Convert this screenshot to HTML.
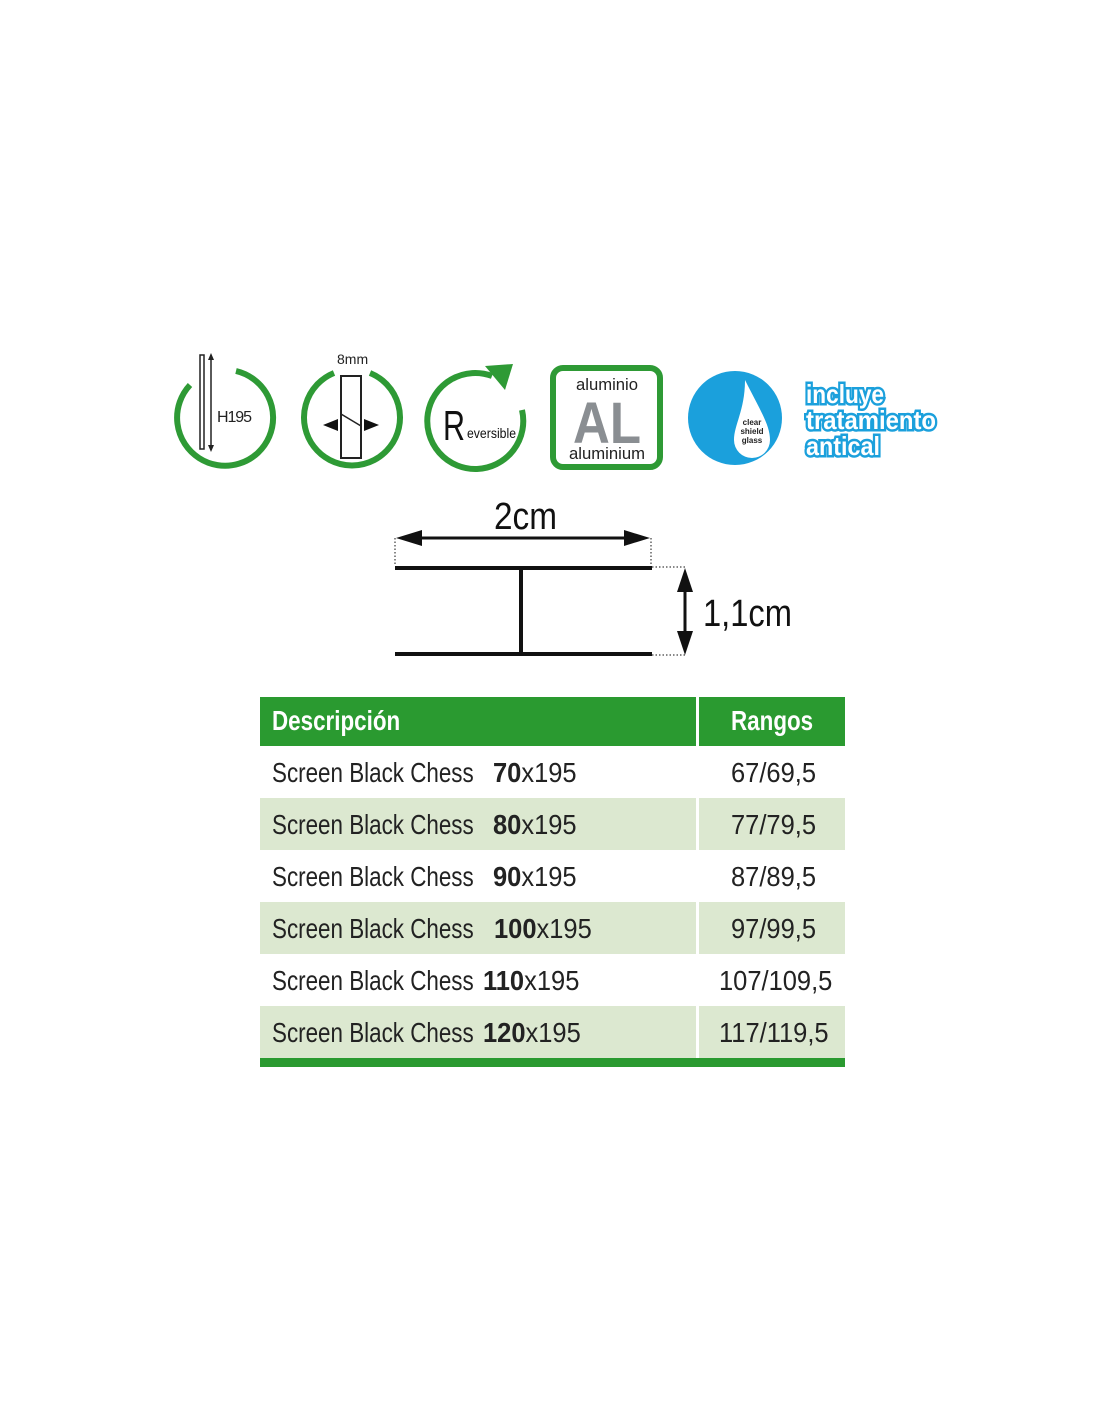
<!DOCTYPE html>
<html><head><style>
body{margin:0;width:1100px;height:1422px;background:#fff;position:relative;font-family:"Liberation Sans",sans-serif;overflow:hidden}
.a{position:absolute}
.row{position:absolute;left:260px;width:585px;height:52px}
.g{background:#dce8d0}
.t{position:absolute;top:11px;font-size:28px;color:#222;white-space:nowrap;transform-origin:0 0;transform:scaleX(0.8)}
.n{transform:scaleX(0.91)}
.div{position:absolute;left:436px;top:0;width:3px;height:100%;background:#fff}
</style></head><body>
<svg class="a" style="left:0;top:0" width="1100" height="700">
<g fill="none" stroke="#2e9a35" stroke-width="6">
<path d="M236 371 A48 48 0 1 1 190 385"/>
<path d="M370 373 A48 48 0 1 1 334 373"/>
<path d="M522 410 A48 48 0 1 1 492 376"/>
<rect x="553" y="368" width="107" height="99" rx="10"/>
</g>
<polygon points="485,366 513,364 505,390" fill="#2e9a35"/>
<rect x="200" y="355" width="4" height="94" fill="none" stroke="#222" stroke-width="1.5"/>
<line x1="211" y1="355" x2="211" y2="450" stroke="#222" stroke-width="1.5"/>
<polygon points="208,360 214,360 211,353" fill="#222"/><polygon points="208,445 214,445 211,452" fill="#222"/>
<text x="217" y="422" font-size="16" fill="#222" textLength="35">H195</text>
<text x="337" y="364" font-size="14" fill="#222">8mm</text>
<rect x="341" y="376" width="20" height="82" fill="#fff" stroke="#222" stroke-width="2"/>
<line x1="341" y1="414" x2="361" y2="426" stroke="#222" stroke-width="1.5"/>
<polygon points="323,425 338,419 338,431" fill="#111"/><polygon points="379,425 364,419 364,431" fill="#111"/>
<text x="443" y="440" font-size="42" fill="#111" textLength="22" lengthAdjust="spacingAndGlyphs">R</text><text x="467" y="438" font-size="14" fill="#111" textLength="49" lengthAdjust="spacingAndGlyphs">eversible</text>
<text x="607" y="390" font-size="17" fill="#222" text-anchor="middle" textLength="62" lengthAdjust="spacingAndGlyphs">aluminio</text>
<text x="607" y="443" font-size="58" font-weight="bold" fill="#8a8e92" text-anchor="middle" textLength="68" lengthAdjust="spacingAndGlyphs">AL</text>
<text x="607" y="459" font-size="17" fill="#222" text-anchor="middle" textLength="76" lengthAdjust="spacingAndGlyphs">aluminium</text>
<circle cx="735" cy="418" r="47" fill="#1ba0dc"/>
<path d="M745 380 C760 410 770 425 770 440 A18 18 0 0 1 734 440 C734 425 745 410 745 380Z" fill="#fff"/>
<text x="752" y="425" font-size="8" font-weight="bold" fill="#222" text-anchor="middle">clear</text>
<text x="752" y="434" font-size="8" font-weight="bold" fill="#222" text-anchor="middle">shield</text>
<text x="752" y="443" font-size="8" font-weight="bold" fill="#222" text-anchor="middle">glass</text>
<g font-weight="bold" font-size="26" fill="#fff" stroke="#1ba0dc" stroke-width="5" paint-order="stroke">
<text x="806" y="403" textLength="78" lengthAdjust="spacingAndGlyphs">incluye</text><text x="806" y="429" textLength="130" lengthAdjust="spacingAndGlyphs">tratamiento</text><text x="806" y="455" textLength="74" lengthAdjust="spacingAndGlyphs">antical</text></g>
<line x1="395" y1="568" x2="652" y2="568" stroke="#111" stroke-width="4"/>
<line x1="395" y1="654" x2="652" y2="654" stroke="#111" stroke-width="4"/>
<line x1="521" y1="568" x2="521" y2="654" stroke="#111" stroke-width="4"/>
<line x1="410" y1="538" x2="636" y2="538" stroke="#111" stroke-width="3"/>
<polygon points="396,538 422,530 422,546" fill="#111"/><polygon points="650,538 624,530 624,546" fill="#111"/>
<g stroke="#111" stroke-dasharray="1.5,2" stroke-width="1"><line x1="395" y1="538" x2="395" y2="566"/><line x1="651" y1="538" x2="651" y2="566"/><line x1="652" y1="567" x2="685" y2="567"/><line x1="652" y1="655" x2="685" y2="655"/></g>
<line x1="685" y1="580" x2="685" y2="643" stroke="#111" stroke-width="3"/>
<polygon points="685,568 677,592 693,592" fill="#111"/><polygon points="685,655 677,631 693,631" fill="#111"/>
<text x="494" y="529" font-size="38" fill="#111" textLength="63" lengthAdjust="spacingAndGlyphs">2cm</text>
<text x="703" y="626" font-size="38" fill="#111" textLength="89" lengthAdjust="spacingAndGlyphs">1,1cm</text>
</svg>

<div class="row" style="top:697px;height:49px;background:#2a9a30"><div class="div"></div>
<span class="t" style="left:12px;top:8px;color:#fff;font-weight:bold">Descripción</span>
<span class="t" style="left:471px;top:8px;color:#fff;font-weight:bold">Rangos</span></div>

<div class="row" style="top:746px"><div class="div"></div><span class="t" style="left:12px">Screen Black Chess</span><span class="t n" style="left:233px"><b>70</b>x195</span><span class="t n" style="left:471px">67/69,5</span></div>
<div class="row g" style="top:798px"><div class="div"></div><span class="t" style="left:12px">Screen Black Chess</span><span class="t n" style="left:233px"><b>80</b>x195</span><span class="t n" style="left:471px">77/79,5</span></div>
<div class="row" style="top:850px"><div class="div"></div><span class="t" style="left:12px">Screen Black Chess</span><span class="t n" style="left:233px"><b>90</b>x195</span><span class="t n" style="left:471px">87/89,5</span></div>
<div class="row g" style="top:902px"><div class="div"></div><span class="t" style="left:12px">Screen Black Chess</span><span class="t n" style="left:234px"><b>100</b>x195</span><span class="t n" style="left:471px">97/99,5</span></div>
<div class="row" style="top:954px"><div class="div"></div><span class="t" style="left:12px">Screen Black Chess</span><span class="t n" style="left:223px"><b>110</b>x195</span><span class="t n" style="left:459px">107/109,5</span></div>
<div class="row g" style="top:1006px"><div class="div"></div><span class="t" style="left:12px">Screen Black Chess</span><span class="t n" style="left:223px"><b>120</b>x195</span><span class="t n" style="left:459px">117/119,5</span></div>
<div class="a" style="left:260px;top:1058px;width:585px;height:9px;background:#2a9a30"></div>
</body></html>
